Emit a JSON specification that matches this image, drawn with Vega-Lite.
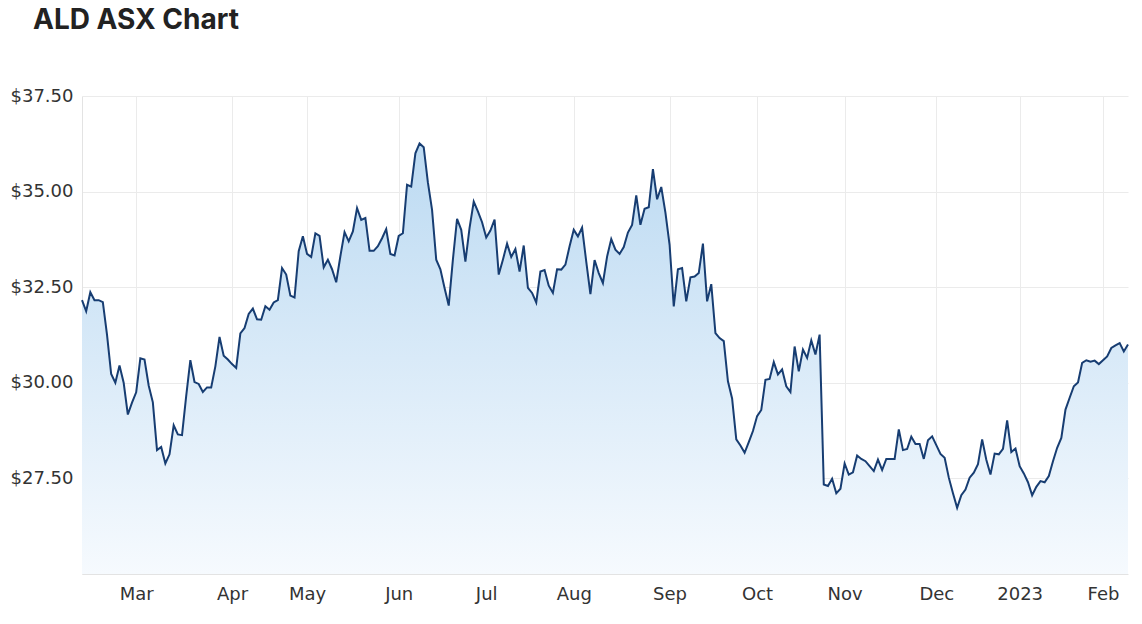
{
  "$schema": "https://vega.github.io/schema/vega-lite/v6.json",
  "width": 1046,
  "height": 478,
  "autosize": {"type": "none"},
  "padding": {"left": 82, "top": 96, "right": 14, "bottom": 50},
  "background": "white",
  "title": {"text": "ALD ASX Chart", "anchor": "start", "frame": "group", "fontSize": 28, "fontWeight": "bold", "font": "Inter", "color": "#222222", "dx": -49, "dy": -48},
  "config": {
    "view": {"stroke": null},
    "axis": {"labelFont": "DejaVu Sans", "labelFontSize": 18, "labelColor": "#333333", "gridColor": "#ebebeb", "domainColor": "#e3e3e3", "ticks": false, "title": null}
  },
  "data": {"values": [
{"d":"2022-02-10","p":32.16},{"d":"2022-02-11","p":31.87},{"d":"2022-02-14","p":32.37},{"d":"2022-02-15","p":32.16},{"d":"2022-02-16","p":32.16},{"d":"2022-02-17","p":32.11},{"d":"2022-02-18","p":31.26},{"d":"2022-02-21","p":30.23},{"d":"2022-02-22","p":30.00},{"d":"2022-02-23","p":30.45},{"d":"2022-02-24","p":30.00},{"d":"2022-02-25","p":29.17},{"d":"2022-02-28","p":29.48},
{"d":"2022-03-01","p":29.75},{"d":"2022-03-02","p":30.64},{"d":"2022-03-03","p":30.61},{"d":"2022-03-04","p":29.93},{"d":"2022-03-07","p":29.49},{"d":"2022-03-08","p":28.24},{"d":"2022-03-09","p":28.32},{"d":"2022-03-10","p":27.89},{"d":"2022-03-11","p":28.13},{"d":"2022-03-14","p":28.89},{"d":"2022-03-15","p":28.65},{"d":"2022-03-16","p":28.63},{"d":"2022-03-17","p":29.65},{"d":"2022-03-18","p":30.59},{"d":"2022-03-21","p":30.02},{"d":"2022-03-22","p":29.97},{"d":"2022-03-23","p":29.76},{"d":"2022-03-24","p":29.88},{"d":"2022-03-25","p":29.88},{"d":"2022-03-28","p":30.43},{"d":"2022-03-29","p":31.20},{"d":"2022-03-30","p":30.71},{"d":"2022-03-31","p":30.61},
{"d":"2022-04-01","p":30.49},{"d":"2022-04-04","p":30.39},{"d":"2022-04-05","p":31.29},{"d":"2022-04-06","p":31.43},{"d":"2022-04-07","p":31.80},{"d":"2022-04-08","p":31.94},{"d":"2022-04-11","p":31.66},{"d":"2022-04-12","p":31.65},{"d":"2022-04-13","p":32.00},{"d":"2022-04-14","p":31.91},{"d":"2022-04-19","p":32.10},{"d":"2022-04-20","p":32.16},{"d":"2022-04-21","p":33.00},{"d":"2022-04-22","p":32.83},{"d":"2022-04-26","p":32.28},{"d":"2022-04-27","p":32.23},{"d":"2022-04-28","p":33.44},{"d":"2022-04-29","p":33.83},
{"d":"2022-05-02","p":33.37},{"d":"2022-05-03","p":33.29},{"d":"2022-05-04","p":33.91},{"d":"2022-05-05","p":33.84},{"d":"2022-05-06","p":33.02},{"d":"2022-05-09","p":33.22},{"d":"2022-05-10","p":32.97},{"d":"2022-05-11","p":32.63},{"d":"2022-05-12","p":33.31},{"d":"2022-05-13","p":33.94},{"d":"2022-05-16","p":33.70},{"d":"2022-05-17","p":33.96},{"d":"2022-05-18","p":34.57},{"d":"2022-05-19","p":34.26},{"d":"2022-05-20","p":34.31},{"d":"2022-05-23","p":33.45},{"d":"2022-05-24","p":33.45},{"d":"2022-05-25","p":33.57},{"d":"2022-05-26","p":33.78},{"d":"2022-05-27","p":34.02},{"d":"2022-05-30","p":33.37},{"d":"2022-05-31","p":33.33},
{"d":"2022-06-01","p":33.84},{"d":"2022-06-02","p":33.91},{"d":"2022-06-03","p":35.18},{"d":"2022-06-06","p":35.13},{"d":"2022-06-07","p":36.00},{"d":"2022-06-08","p":36.26},{"d":"2022-06-09","p":36.16},{"d":"2022-06-10","p":35.24},{"d":"2022-06-14","p":34.52},{"d":"2022-06-15","p":33.22},{"d":"2022-06-16","p":32.97},{"d":"2022-06-17","p":32.48},{"d":"2022-06-20","p":32.02},{"d":"2022-06-21","p":33.22},{"d":"2022-06-22","p":34.29},{"d":"2022-06-23","p":34.00},{"d":"2022-06-24","p":33.17},{"d":"2022-06-27","p":34.05},{"d":"2022-06-28","p":34.74},{"d":"2022-06-29","p":34.48},{"d":"2022-06-30","p":34.20},
{"d":"2022-07-01","p":33.80},{"d":"2022-07-04","p":33.98},{"d":"2022-07-05","p":34.27},{"d":"2022-07-06","p":32.83},{"d":"2022-07-07","p":33.22},{"d":"2022-07-08","p":33.64},{"d":"2022-07-11","p":33.29},{"d":"2022-07-12","p":33.50},{"d":"2022-07-13","p":32.91},{"d":"2022-07-14","p":33.59},{"d":"2022-07-15","p":32.48},{"d":"2022-07-18","p":32.35},{"d":"2022-07-19","p":32.10},{"d":"2022-07-20","p":32.91},{"d":"2022-07-21","p":32.95},{"d":"2022-07-22","p":32.54},{"d":"2022-07-25","p":32.35},{"d":"2022-07-26","p":32.97},{"d":"2022-07-27","p":32.96},{"d":"2022-07-28","p":33.09},{"d":"2022-07-29","p":33.57},
{"d":"2022-08-01","p":34.00},{"d":"2022-08-02","p":33.83},{"d":"2022-08-03","p":34.06},{"d":"2022-08-04","p":33.17},{"d":"2022-08-05","p":32.32},{"d":"2022-08-08","p":33.21},{"d":"2022-08-09","p":32.87},{"d":"2022-08-10","p":32.61},{"d":"2022-08-11","p":33.30},{"d":"2022-08-12","p":33.76},{"d":"2022-08-15","p":33.48},{"d":"2022-08-16","p":33.37},{"d":"2022-08-17","p":33.55},{"d":"2022-08-18","p":33.93},{"d":"2022-08-19","p":34.13},{"d":"2022-08-22","p":34.90},{"d":"2022-08-23","p":34.13},{"d":"2022-08-24","p":34.55},{"d":"2022-08-25","p":34.59},{"d":"2022-08-26","p":35.59},{"d":"2022-08-29","p":34.80},{"d":"2022-08-30","p":35.12},{"d":"2022-08-31","p":34.45},
{"d":"2022-09-01","p":33.61},{"d":"2022-09-02","p":32.00},{"d":"2022-09-05","p":32.97},{"d":"2022-09-06","p":33.00},{"d":"2022-09-07","p":32.13},{"d":"2022-09-08","p":32.76},{"d":"2022-09-09","p":32.78},{"d":"2022-09-12","p":32.87},{"d":"2022-09-13","p":33.64},{"d":"2022-09-14","p":32.13},{"d":"2022-09-15","p":32.58},{"d":"2022-09-16","p":31.30},{"d":"2022-09-19","p":31.17},{"d":"2022-09-20","p":31.09},{"d":"2022-09-21","p":30.04},{"d":"2022-09-23","p":29.59},{"d":"2022-09-26","p":28.52},{"d":"2022-09-27","p":28.36},{"d":"2022-09-28","p":28.17},{"d":"2022-09-29","p":28.45},{"d":"2022-09-30","p":28.74},
{"d":"2022-10-03","p":29.13},{"d":"2022-10-04","p":29.29},{"d":"2022-10-05","p":30.08},{"d":"2022-10-06","p":30.10},{"d":"2022-10-07","p":30.54},{"d":"2022-10-10","p":30.22},{"d":"2022-10-11","p":30.35},{"d":"2022-10-12","p":29.91},{"d":"2022-10-13","p":29.76},{"d":"2022-10-14","p":30.95},{"d":"2022-10-17","p":30.30},{"d":"2022-10-18","p":30.87},{"d":"2022-10-19","p":30.65},{"d":"2022-10-20","p":31.11},{"d":"2022-10-21","p":30.74},{"d":"2022-10-24","p":31.26},{"d":"2022-10-25","p":27.34},{"d":"2022-10-26","p":27.30},{"d":"2022-10-27","p":27.49},{"d":"2022-10-28","p":27.11},{"d":"2022-10-31","p":27.23},
{"d":"2022-11-01","p":27.89},{"d":"2022-11-02","p":27.60},{"d":"2022-11-03","p":27.66},{"d":"2022-11-04","p":28.10},{"d":"2022-11-07","p":28.01},{"d":"2022-11-08","p":27.95},{"d":"2022-11-09","p":27.82},{"d":"2022-11-10","p":27.69},{"d":"2022-11-11","p":27.99},{"d":"2022-11-14","p":27.72},{"d":"2022-11-15","p":28.01},{"d":"2022-11-16","p":28.01},{"d":"2022-11-17","p":28.01},{"d":"2022-11-18","p":28.78},{"d":"2022-11-21","p":28.24},{"d":"2022-11-22","p":28.27},{"d":"2022-11-23","p":28.59},{"d":"2022-11-24","p":28.40},{"d":"2022-11-25","p":28.40},{"d":"2022-11-28","p":28.01},{"d":"2022-11-29","p":28.50},{"d":"2022-11-30","p":28.60},
{"d":"2022-12-01","p":28.37},{"d":"2022-12-02","p":28.14},{"d":"2022-12-05","p":28.04},{"d":"2022-12-06","p":27.52},{"d":"2022-12-07","p":27.11},{"d":"2022-12-08","p":26.73},{"d":"2022-12-09","p":27.06},{"d":"2022-12-12","p":27.21},{"d":"2022-12-13","p":27.52},{"d":"2022-12-14","p":27.65},{"d":"2022-12-15","p":27.87},{"d":"2022-12-16","p":28.52},{"d":"2022-12-19","p":27.99},{"d":"2022-12-20","p":27.60},{"d":"2022-12-21","p":28.15},{"d":"2022-12-22","p":28.13},{"d":"2022-12-23","p":28.27},{"d":"2022-12-28","p":29.02},{"d":"2022-12-29","p":28.19},{"d":"2022-12-30","p":28.28},
{"d":"2023-01-03","p":27.82},{"d":"2023-01-04","p":27.63},{"d":"2023-01-05","p":27.40},{"d":"2023-01-06","p":27.06},{"d":"2023-01-09","p":27.28},{"d":"2023-01-10","p":27.43},{"d":"2023-01-11","p":27.40},{"d":"2023-01-12","p":27.56},{"d":"2023-01-13","p":27.95},{"d":"2023-01-16","p":28.30},{"d":"2023-01-17","p":28.56},{"d":"2023-01-18","p":29.30},{"d":"2023-01-19","p":29.61},{"d":"2023-01-20","p":29.91},{"d":"2023-01-23","p":30.01},{"d":"2023-01-24","p":30.52},{"d":"2023-01-25","p":30.59},{"d":"2023-01-27","p":30.55},{"d":"2023-01-30","p":30.58},{"d":"2023-01-31","p":30.49},
{"d":"2023-02-01","p":30.59},{"d":"2023-02-02","p":30.69},{"d":"2023-02-03","p":30.91},{"d":"2023-02-06","p":30.98},{"d":"2023-02-07","p":31.04},{"d":"2023-02-08","p":30.82},{"d":"2023-02-09","p":31.00}
  ]},
  "encoding": {
    "x": {
      "field": "d", "type": "ordinal",
      "scale": {"type": "point", "padding": 0},
      "axis": {
        "values": ["2022-03-01","2022-04-01","2022-05-02","2022-06-01","2022-07-01","2022-08-01","2022-09-01","2022-10-03","2022-11-01","2022-12-01","2023-01-03","2023-02-01"],
        "labelExpr": "datum.value == '2023-01-03' ? '2023' : ['Jan','Feb','Mar','Apr','May','Jun','Jul','Aug','Sep','Oct','Nov','Dec'][toNumber(substring(datum.value,5,7))-1]",
        "labelAngle": 0, "labelPadding": 11, "grid": true, "domain": true
      }
    },
    "y": {
      "field": "p", "type": "quantitative",
      "scale": {"domain": [25, 37.5], "nice": false, "zero": false},
      "axis": {"values": [27.5, 30, 32.5, 35, 37.5], "format": "$.2f", "labelPadding": 9, "grid": true, "domain": true}
    }
  },
  "layer": [
    {
      "mark": {"type": "area", "color": {"gradient": "linear", "x1": 0, "y1": 0, "x2": 0, "y2": 1, "stops": [{"offset": 0, "color": "#bcdaf2"}, {"offset": 1, "color": "#f6fafe"}]}},
      "encoding": {"y2": {"datum": 25}}
    },
    {
      "mark": {"type": "line", "color": "#173d72", "strokeWidth": 2}
    }
  ]
}
